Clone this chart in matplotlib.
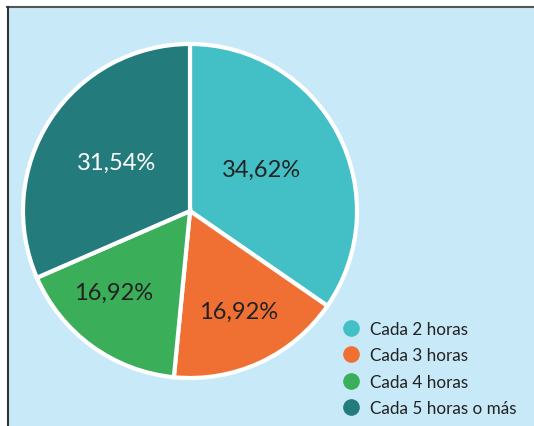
import matplotlib
matplotlib.use("Agg")
import matplotlib.pyplot as plt
from matplotlib.patches import Rectangle
from matplotlib.lines import Line2D

categories = ["Cada 2 horas", "Cada 3 horas", "Cada 4 horas", "Cada 5 horas o más"]
values = [34.62, 16.92, 16.92, 31.54]
value_labels = ["34,62%", "16,92%", "16,92%", "31,54%"]

colors = ["#42C0C6", "#F07033", "#3BAE5A", "#237B7C"]
label_colors = ["#222222", "#222222", "#222222", "#FFFFFF"]
label_pos = [(0.43, 0.25), (0.29, -0.60), (-0.46, -0.49), (-0.44, 0.29)]

W, H = 534, 427
fig = plt.figure(figsize=(W / 100, H / 100), dpi=100)
fig.patch.set_facecolor("white")

# background panel
bg = fig.add_axes([0, 0, 1, 1])
bg.set_xlim(0, W)
bg.set_ylim(H, 0)
bg.axis("off")
bg.add_patch(Rectangle((7, 8), W, H, facecolor="#C8EAF8", edgecolor="none"))
bg.plot([7, W], [8, 8], color="#555555", lw=1.5)
bg.plot([7.5, 7.5], [8, H], color="#333333", lw=1.5)

# pie
cx, cy, R = 190, 212, 167
pad = 1.06
ax = fig.add_axes([(cx - R * pad) / W, 1 - (cy + R * pad) / H, 2 * R * pad / W, 2 * R * pad / H])
wedges, _ = ax.pie(values, colors=colors, startangle=90, counterclock=False,
                   radius=1, wedgeprops=dict(edgecolor="white", linewidth=3))
ax.set_xlim(-pad, pad)
ax.set_ylim(-pad, pad)
ax.axis("off")
for lbl, (x, y), c in zip(value_labels, label_pos, label_colors):
    ax.text(x, y, lbl, ha="center", va="center", fontsize=17, color=c,
            family="Lato")

# legend
handles = [Line2D([0], [0], marker="o", linestyle="none", markersize=12,
                  markerfacecolor=col, markeredgecolor="none") for col in colors]
leg = fig.legend(handles, categories, loc="upper left",
                 bbox_to_anchor=(332 / W, 1 - 313 / H), frameon=False,
                 prop={"family": "Lato", "size": 12.3},
                 labelspacing=0.62, handletextpad=0.55, handlelength=1.2, borderpad=0)
for t in leg.get_texts():
    t.set_color("#222222")

fig.savefig("out.png", dpi=100, facecolor="white")
